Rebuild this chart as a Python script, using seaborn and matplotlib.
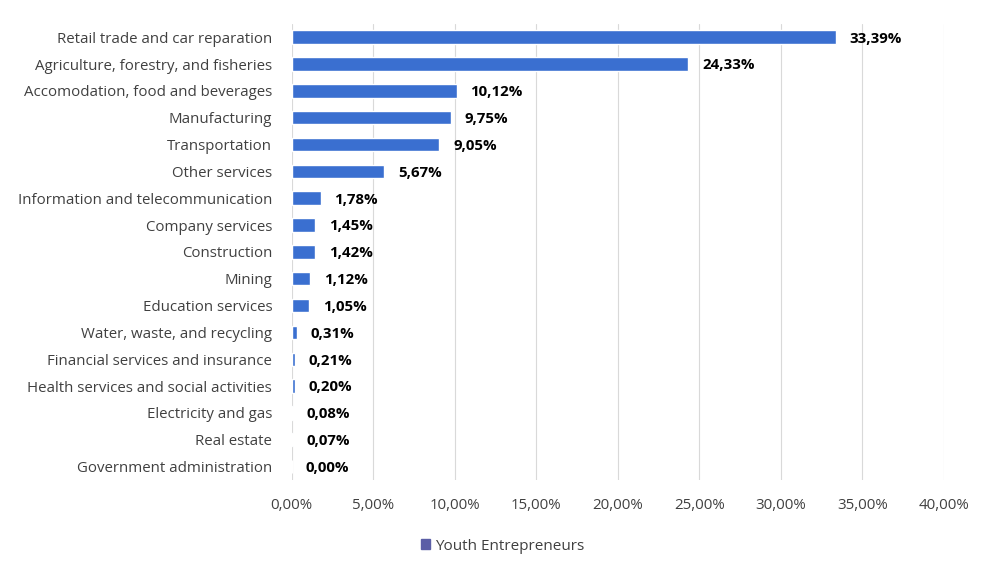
import matplotlib
matplotlib.use("Agg")
import matplotlib.pyplot as plt
import seaborn as sns
import pandas as pd
from matplotlib.ticker import FuncFormatter, MultipleLocator
from matplotlib.patches import Patch

sectors = [
    "Retail trade and car reparation",
    "Agriculture, forestry, and fisheries",
    "Accomodation, food and beverages",
    "Manufacturing",
    "Transportation",
    "Other services",
    "Information and telecommunication",
    "Company services",
    "Construction",
    "Mining",
    "Education services",
    "Water, waste, and recycling",
    "Financial services and insurance",
    "Health services and social activities",
    "Electricity and gas",
    "Real estate",
    "Government administration",
]
shares = [33.39, 24.33, 10.12, 9.75, 9.05, 5.67, 1.78, 1.45, 1.42, 1.12,
          1.05, 0.31, 0.21, 0.20, 0.08, 0.07, 0.00]

df = pd.DataFrame({"Sector": sectors, "Share": shares})

sns.set_style("white")
plt.rcParams["font.family"] = ["Open Sans", "DejaVu Sans"]

bar_color = "#3a6fd0"
fig = plt.figure(figsize=(9.82, 5.66), dpi=100)
ax = fig.add_axes([0.297, 0.152, 0.664, 0.806])

sns.barplot(data=df, x="Share", y="Sector", color=bar_color, width=0.5,
            saturation=1, ax=ax, zorder=3)

ax.set_xlim(0, 40)
ax.xaxis.set_major_locator(MultipleLocator(5))
ax.xaxis.set_major_formatter(FuncFormatter(lambda v, p: f"{v:.2f}%".replace(".", ",")))
ax.grid(axis="x", color="#d9d9d9", linewidth=0.8, zorder=0)
ax.grid(axis="y", visible=False)
for s in ax.spines.values():
    s.set_visible(False)
ax.set_xlabel("")
ax.set_ylabel("")
ax.tick_params(axis="both", length=0, labelsize=10.8, colors="#404040")
ax.tick_params(axis="x", pad=13)
ax.tick_params(axis="y", pad=14)

for i, v in enumerate(shares):
    ax.text(v + 0.85, i + 0.05, f"{v:.2f}%".replace(".", ","), va="center", ha="left",
            fontsize=10.8, fontweight="bold", color="black")

fig.legend(handles=[Patch(color="#5b5ea6", label="Youth Entrepreneurs")],
           loc="center", bbox_to_anchor=(0.512, 0.035), frameon=False,
           fontsize=11, handlelength=0.6, handleheight=0.6, handletextpad=0.3,
           labelcolor="#404040")

fig.savefig("out.png", dpi=100)
plt.close(fig)
